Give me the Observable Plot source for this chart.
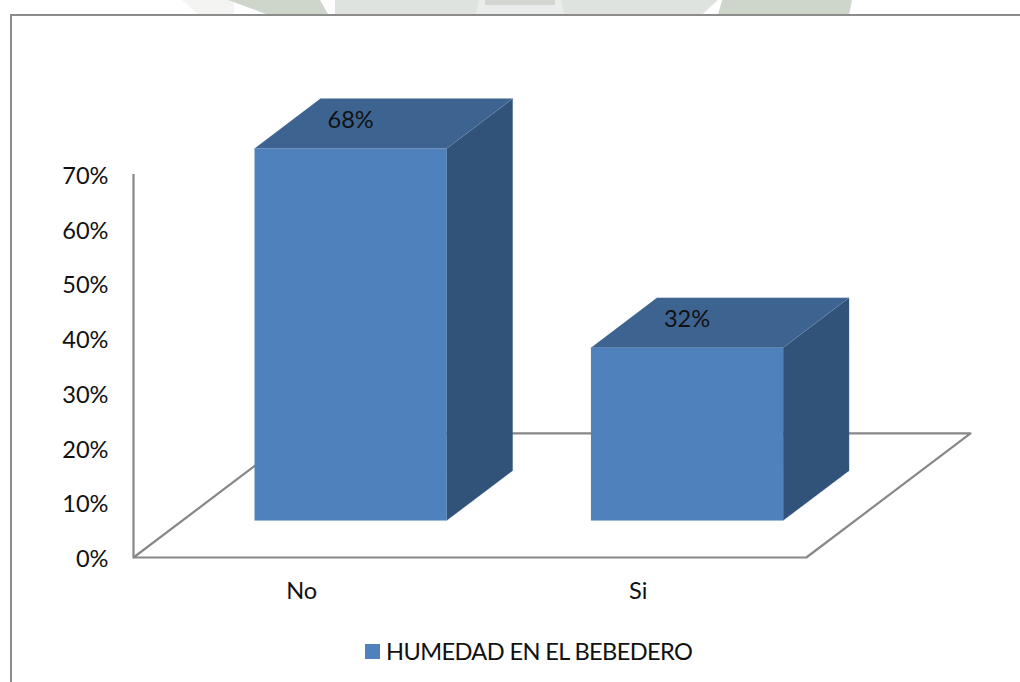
<!DOCTYPE html>
<html><head><meta charset="utf-8">
<script src="https://cdn.jsdelivr.net/npm/d3@7"></script>
<script src="https://cdn.jsdelivr.net/npm/@observablehq/plot@0.6"></script>
<style>
html,body{margin:0;padding:0;background:#fff;width:1020px;height:682px;overflow:hidden;position:relative}
#wm{position:absolute;left:0;top:0;width:1020px;height:14px;overflow:hidden}
#wm i{position:absolute;top:0;height:14px;display:block}
#frame{position:absolute;left:10px;top:14px;width:1020px;height:700px;border:2px solid #8c8c8c;box-sizing:border-box}
#chart{position:absolute;left:0;top:0}
#legend{position:absolute;left:365px;top:637px;display:flex;align-items:center;font:23.6px Lato,sans-serif;letter-spacing:-0.62px;color:#111;height:28px;white-space:nowrap}
#legend b{display:block;width:15px;height:15px;background:#4f81bd;margin-right:6px}
</style></head><body>
<div id="wm">
<i style="left:182px;width:52px;background:#f4f5f3;clip-path:polygon(0 0,100% 0,100% 100%,30% 100%)"></i>
<i style="left:228px;width:100px;background:#ced5ca;clip-path:polygon(0 0,92% 0,100% 100%,38% 100%)"></i>
<i style="left:335px;width:383px;background:#dfe3df;clip-path:polygon(0 0,100% 0,96% 100%,0 100%)"></i>
<i style="left:476px;width:88px;background:#e9ecea;clip-path:polygon(3% 0,97% 0,100% 100%,0 100%)"></i>
<i style="left:485px;width:70px;height:5px;background:#d3d7d1"></i>
<i style="left:714px;width:138px;background:#ced5ca;clip-path:polygon(6% 0,100% 0,98% 100%,3% 100%)"></i>
</div>
<div id="frame"></div>
<div id="chart"></div>
<div id="legend"><b></b><span>HUMEDAD EN EL BEBEDERO</span></div>
<script>
const categories = ["No", "Si"];
const values = [68, 31.6];
const valueLabels = ["68%", "32%"];
const yTicks = [0, 10, 20, 30, 40, 50, 60, 70];
const seriesName = "HUMEDAD EN EL BEBEDERO";

// oblique projection: each depth step moves in x (category units) and y (percent units)
const depthX = 0.488, depthY = 22.67;   // full floor depth
const front = 0.298, back = 0.70;       // bar front/back plane, share of floor depth
const barW = 0.5714;
const P = (u, v, d) => ({x: u + d * depthX, y: v + d * depthY});

const faces = [];
categories.forEach((c, i) => {
  const l = i + 0.5 - barW / 2, r = i + 0.5 + barW / 2, h = values[i];
  const add = (face, pts) => pts.forEach(p => faces.push({key: c + face, face, ...p}));
  add("front", [P(l,0,front),P(r,0,front),P(r,h,front),P(l,h,front)]);
  add("top",   [P(l,h,front),P(r,h,front),P(r,h,back),P(l,h,back)]);
  add("side",  [P(r,0,front),P(r,0,back),P(r,h,back),P(r,h,front)]);
});
const faceFill = {front:"#4f81bd", top:"#3d6491", side:"#315279"};
const floor = [P(0,0,0),P(2,0,0),P(2,0,1),P(0,0,1),P(0,0,0)];
const labels = categories.map((c,i)=>({...P(i+0.5,values[i],front),t:valueLabels[i]}));

const plot = Plot.plot({
  width: 1020, height: 682,
  marginLeft: 133, marginRight: 50, marginTop: 174, marginBottom: 125,
  style: {background:"transparent", fontFamily:"Lato, sans-serif", overflow:"visible"},
  x: {domain:[0, 2+depthX], range:[133, 970], axis:null},
  y: {domain:[0,70], range:[557,174], axis:null},
  marks: [
    Plot.ruleX([0], {y1:0, y2:70, stroke:"#888", strokeWidth:2.2}),
    Plot.line(floor, {x:"x", y:"y", stroke:"#888", strokeWidth:2.2}),
    Plot.line(faces, {x:"x", y:"y", z:"key", fill:d=>faceFill[d.face], stroke:"#7fa3cf", strokeWidth:0.5, strokeOpacity:0.35}),
    Plot.text(yTicks, {x:0, y:d=>d, text:d=>d+"%", textAnchor:"end", dx:-25, dy:2, fontSize:23.6, fill:"#111"}),
    Plot.text(categories, {x:(d,i)=>i+0.5, y:0, text:d=>d, dy:34, fontSize:23.6, fill:"#111"}),
    Plot.text(labels, {x:"x", y:"y", text:"t", dy:-28, fontSize:23.6, fill:"#111"})
  ]
});
document.getElementById("chart").append(plot);
</script>
</body></html>
